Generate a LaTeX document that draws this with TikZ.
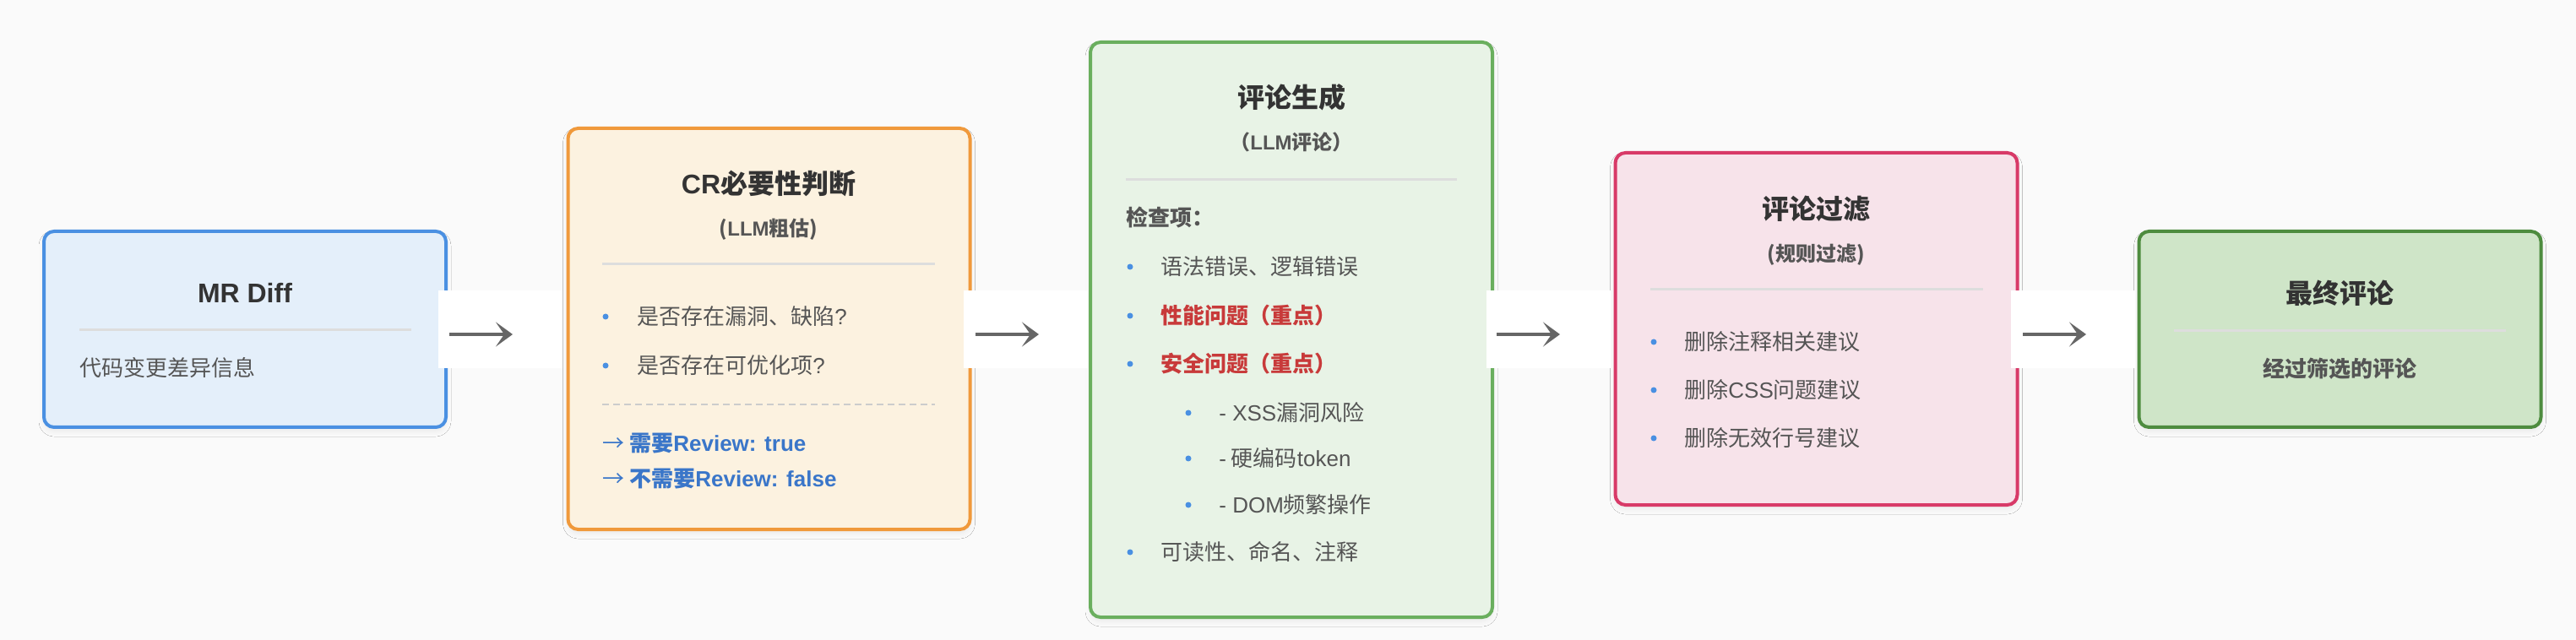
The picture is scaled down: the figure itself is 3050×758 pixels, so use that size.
\documentclass[tikz,border=0pt]{standalone}
\usepackage{fontspec}
\setmainfont{Noto Sans CJK SC}
\newfontfamily\en{Liberation Sans}
\usetikzlibrary{arrows.meta,shadows.blur}

\definecolor{bgGray}{HTML}{FAFAFA}
\definecolor{titleGray}{HTML}{333333}
\definecolor{bodyGray}{HTML}{555555}
\definecolor{ruleGray}{HTML}{DDDDDD}
\definecolor{dashGray}{HTML}{CCCCCC}
\definecolor{arrowGray}{HTML}{666666}
\definecolor{dotBlue}{HTML}{4A90E2}
\definecolor{linkBlue}{HTML}{3A76C9}
\definecolor{keyRed}{HTML}{C83A3A}
\definecolor{mrLine}{HTML}{4A90E2}
\definecolor{mrFill}{HTML}{E4EFFA}
\definecolor{crLine}{HTML}{F0993B}
\definecolor{crFill}{HTML}{FCF2E0}
\definecolor{genLine}{HTML}{6AAF5E}
\definecolor{genFill}{HTML}{E8F3E6}
\definecolor{filtLine}{HTML}{D83A68}
\definecolor{filtFill}{HTML}{F7E3EA}
\definecolor{finLine}{HTML}{4E8C3F}
\definecolor{finFill}{HTML}{CFE5C8}

\begin{document}
\begin{tikzpicture}[x=0.5pt,y=-0.5pt,
  stage/.style={line width=2pt,rounded corners=6pt,inner sep=0pt,minimum width=238pt,
    blur shadow={shadow xshift=0pt,shadow yshift=-2.5pt,shadow opacity=6,shadow blur radius=3pt}},
  title/.style={font=\bfseries\fontsize{16pt}{19pt}\selectfont,text=titleGray,inner sep=0pt},
  sub/.style={font=\bfseries\fontsize{12pt}{14pt}\selectfont,text=bodyGray,inner sep=0pt},
  item/.style={font=\fontsize{13pt}{16pt}\selectfont,text=bodyGray,inner sep=0pt,anchor=west},
  dot/.style={circle,fill=dotBlue,inner sep=0pt,minimum size=3.5pt},
  rule/.style={line width=1.5pt,draw=ruleGray},
  gapBox/.style={fill=white,minimum width=73.5pt,minimum height=46pt,inner sep=0pt},
  flow/.style={line width=2pt,draw=arrowGray,-{Stealth[length=10pt,width=14.5pt,inset=5pt]}}]

\fill[bgGray] (0,0) rectangle (3050,758);
\useasboundingbox (0,0) rectangle (3050,758);

% stages
\node[stage,draw=mrLine,fill=mrFill,minimum height=116pt] (mrDiff) at (290,390) {};
\node[stage,draw=crLine,fill=crFill,minimum height=237.5pt] (crCheck) at (910.5,389.5) {};
\node[stage,draw=genLine,fill=genFill,minimum height=340.5pt] (genComment) at (1529,390.5) {};
\node[stage,draw=filtLine,fill=filtFill,minimum height=208.5pt] (filtComment) at (2150.5,389.5) {};
\node[stage,draw=finLine,fill=finFill,minimum height=116pt] (finComment) at (2770.5,390) {};

% MR Diff
\node[title] (mrTitle) at (290,347) {\en MR Diff};
\draw[rule] (94,391) -- (487,391);
\node[item] (mrText) at (94,436) {代码变更差异信息};

% CR check
\node[title] (crTitle) at (910,217) {{\en CR}必要性判断};
\node[sub] (crSub) at (910,272) {({\en LLM}粗估)};
\draw[rule] (713,313) -- (1107,313);
\node[dot] (crDotA) at (717,375) {};
\node[item] (crItemA) at (754,375) {是否存在漏洞、缺陷{\en ?}};
\node[dot] (crDotB) at (717,433) {};
\node[item] (crItemB) at (754,433) {是否存在可优化项{\en ?}};
\draw[line width=1pt,draw=dashGray,dash pattern=on 4pt off 2.5pt] (713,479) -- (1107,479);
\node[item,text=linkBlue,font=\bfseries\fontsize{13pt}{16pt}\selectfont] (crYes) at (713,525) {{\mdseries →} 需要{\en Review: true}};
\node[item,text=linkBlue,font=\bfseries\fontsize{13pt}{16pt}\selectfont] (crNo) at (713,567) {{\mdseries →} 不需要{\en Review: false}};

% comment generation
\node[title] (genTitle) at (1529,115) {评论生成};
\node[sub] (genSub) at (1529,168) {（{\en LLM}评论）};
\draw[rule] (1333,213) -- (1725,213);
\node[item,font=\bfseries\fontsize{13pt}{16pt}\selectfont] (genHead) at (1333,258) {检查项：};
\node[dot] (genDotA) at (1338,316) {};
\node[item] (genItemA) at (1374,316) {语法错误、逻辑错误};
\node[dot] (genDotB) at (1338,374) {};
\node[item,text=keyRed,font=\bfseries\fontsize{13pt}{16pt}\selectfont] (genItemB) at (1374,374) {性能问题（重点）};
\node[dot] (genDotC) at (1338,431) {};
\node[item,text=keyRed,font=\bfseries\fontsize{13pt}{16pt}\selectfont] (genItemC) at (1374,431) {安全问题（重点）};
\node[dot] (genDotD) at (1407,489) {};
\node[item] (genItemD) at (1443,489) {{\en - XSS}漏洞风险};
\node[dot] (genDotE) at (1407,543) {};
\node[item] (genItemE) at (1443,543) {{\en -} 硬编码{\en token}};
\node[dot] (genDotF) at (1407,598) {};
\node[item] (genItemF) at (1443,598) {{\en - DOM}频繁操作};
\node[dot] (genDotG) at (1338,654) {};
\node[item] (genItemG) at (1374,654) {可读性、命名、注释};

% comment filter
\node[title] (filtTitle) at (2150,247) {评论过滤};
\node[sub] (filtSub) at (2150,302) {(规则过滤)};
\draw[rule] (1954,343) -- (2348,343);
\node[dot] (filtDotA) at (1958,405) {};
\node[item] (filtItemA) at (1994,405) {删除注释相关建议};
\node[dot] (filtDotB) at (1958,462) {};
\node[item] (filtItemB) at (1994,462) {删除{\en CSS}问题建议};
\node[dot] (filtDotC) at (1958,519) {};
\node[item] (filtItemC) at (1994,519) {删除无效行号建议};

% final comment
\node[title] (finTitle) at (2770,347) {最终评论};
\draw[rule] (2574,392) -- (2967,392);
\node[item,anchor=center,font=\bfseries\fontsize{13pt}{16pt}\selectfont] (finText) at (2770,437) {经过筛选的评论};

% arrows between stages
\node[gapBox] (gapA) at (592.5,390) {};
\node[gapBox] (gapB) at (1214,390) {};
\node[gapBox] (gapC) at (1833,390) {};
\node[gapBox] (gapD) at (2454.5,390) {};
\coordinate (aFrom) at (532,396);  \coordinate (aTo) at (607,396);
\coordinate (bFrom) at (1155,396); \coordinate (bTo) at (1230,396);
\coordinate (cFrom) at (1772,396); \coordinate (cTo) at (1847,396);
\coordinate (dFrom) at (2395,396); \coordinate (dTo) at (2470,396);
\draw[flow] (aFrom) -- (aTo);
\draw[flow] (bFrom) -- (bTo);
\draw[flow] (cFrom) -- (cTo);
\draw[flow] (dFrom) -- (dTo);
\end{tikzpicture}
\end{document}
